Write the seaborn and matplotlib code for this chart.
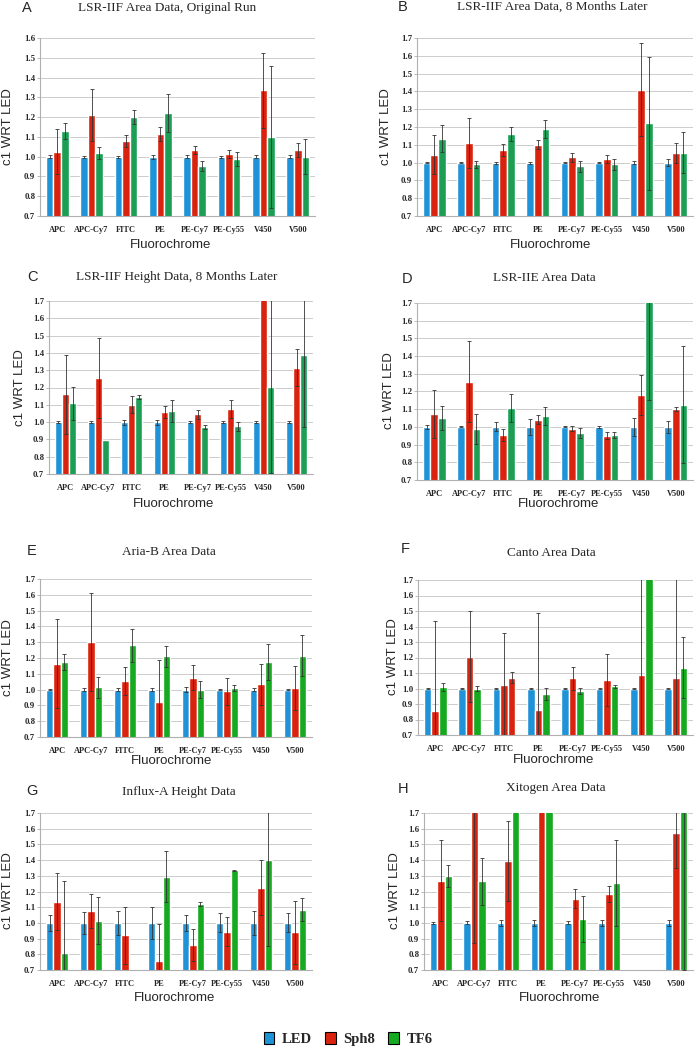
import numpy as np
import pandas as pd
import seaborn as sns
import matplotlib.pyplot as plt
from matplotlib.patches import Patch

nan = np.nan

fluors = ["APC", "APC-Cy7", "FITC", "PE", "PE-Cy7", "PE-Cy55", "V450", "V500"]
dyes = ["LED", "Sph8", "TF6"]

# A - LSR-IIF area, original run
a_led = [1.0, 1.0, 1.0, 1.0, 1.0, 1.0, 1.0, 1.0]
a_led_err = [0.006, 0.005, 0.005, 0.01, 0.006, 0.005, 0.008, 0.006]
a_sph8 = [1.025, 1.21, 1.08, 1.115, 1.035, 1.015, 1.335, 1.035]
a_sph8_err = [0.115, 0.13, 0.03, 0.035, 0.02, 0.02, 0.19, 0.035]
a_tf6 = [1.13, 1.02, 1.2, 1.22, 0.955, 0.99, 1.10, 1.0]
a_tf6_err = [0.04, 0.03, 0.035, 0.095, 0.025, 0.035, 0.36, 0.09]

# B - LSR-IIF area, 8 months later
b_led = [1.0, 1.0, 1.0, 1.0, 1.0, 1.0, 1.0, 1.0]
b_led_err = [0.004, 0.004, 0.006, 0.006, 0.004, 0.005, 0.008, 0.018]
b_sph8 = [1.045, 1.11, 1.07, 1.10, 1.03, 1.02, 1.41, 1.055]
b_sph8_err = [0.11, 0.14, 0.035, 0.025, 0.025, 0.025, 0.26, 0.055]
b_tf6 = [1.135, 0.99, 1.16, 1.19, 0.98, 0.99, 1.22, 1.055]
b_tf6_err = [0.075, 0.02, 0.04, 0.05, 0.03, 0.03, 0.375, 0.115]

# C - LSR-IIF height, 8 months later
c_led = [1.0, 1.0, 1.0, 1.0, 1.0, 1.0, 1.0, 1.0]
c_led_err = [0.005, 0.004, 0.015, 0.015, 0.008, 0.006, 0.008, 0.008]
c_sph8 = [1.16, 1.255, 1.10, 1.06, 1.045, 1.075, 1.9, 1.315]
c_sph8_err = [0.23, 0.23, 0.05, 0.035, 0.025, 0.05, 0.0, 0.105]
c_tf6 = [1.11, 0.895, 1.145, 1.065, 0.97, 0.975, 1.205, 1.39]
c_tf6_err = [0.095, 0.0, 0.01, 0.065, 0.012, 0.025, 0.5, 0.42]

# D - LSR-IIE area
d_led = [1.0, 1.0, 1.0, 1.0, 1.0, 1.0, 1.0, 1.0]
d_led_err = [0.01, 0.003, 0.025, 0.045, 0.003, 0.005, 0.05, 0.035]
d_sph8 = [1.075, 1.255, 0.955, 1.04, 0.99, 0.95, 1.18, 1.10]
d_sph8_err = [0.135, 0.23, 0.035, 0.025, 0.015, 0.02, 0.115, 0.01]
d_tf6 = [1.05, 0.99, 1.105, 1.06, 0.965, 0.955, 1.8, 1.125]
d_tf6_err = [0.07, 0.085, 0.08, 0.05, 0.03, 0.015, 0.65, 0.33]

# E - Aria-B area
e_led = [1.0, 1.0, 1.0, 1.0, 1.0, 1.0, 1.0, 1.0]
e_led_err = [0.004, 0.012, 0.01, 0.012, 0.015, 0.005, 0.01, 0.004]
e_sph8 = [1.165, 1.30, 1.055, 0.92, 1.075, 0.99, 1.035, 1.01]
e_sph8_err = [0.28, 0.31, 0.09, 0.27, 0.08, 0.085, 0.13, 0.14]
e_tf6 = [1.175, 1.015, 1.28, 1.21, 1.0, 1.01, 1.175, 1.215]
e_tf6_err = [0.05, 0.065, 0.105, 0.065, 0.055, 0.02, 0.115, 0.13]

# F - Canto area
f_led = [1.0, 1.0, 1.0, 1.0, 1.0, 1.0, 1.0, 1.0]
f_led_err = [0.003, 0.003, 0.003, 0.005, 0.003, 0.003, 0.003, 0.004]
f_sph8 = [0.855, 1.205, 1.02, 0.86, 1.065, 1.055, 1.09, 1.065]
f_sph8_err = [0.58, 0.295, 0.335, 0.63, 0.075, 0.165, 0.9, 0.9]
f_tf6 = [1.01, 1.0, 1.07, 0.965, 0.985, 1.015, 1.9, 1.135]
f_tf6_err = [0.025, 0.015, 0.035, 0.04, 0.02, 0.01, 0.0, 0.195]

# G - Influx-A height
g_led = [1.0, 1.0, 1.0, 1.0, 1.0, 1.0, 1.0, 1.0]
g_led_err = [0.05, 0.07, 0.075, 0.1, 0.05, 0.06, 0.075, 0.06]
g_sph8 = [1.135, 1.075, 0.92, 0.755, 0.86, 0.945, 1.225, 0.94]
g_sph8_err = [0.18, 0.11, 0.18, 0.24, 0.1, 0.095, 0.175, 0.2]
g_tf6 = [0.81, 1.015, nan, 1.295, 1.12, 1.335, 1.40, 1.085]
g_tf6_err = [0.455, 0.15, nan, 0.165, 0.015, 0.003, 0.55, 0.075]

# H - Xitogen area
h_led = [1.0, 1.0, 1.0, 1.0, 1.0, 1.0, nan, 1.0]
h_led_err = [0.005, 0.01, 0.018, 0.018, 0.01, 0.018, nan, 0.018]
h_sph8 = [1.27, 1.75, 1.395, 1.9, 1.155, 1.185, nan, 1.575]
h_sph8_err = [0.26, 0.88, 0.255, 0.0, 0.06, 0.05, nan, 0.225]
h_tf6 = [1.30, 1.265, 1.9, 1.9, 1.025, 1.255, nan, 1.75]
h_tf6_err = [0.07, 0.15, 0.0, 0.0, 0.145, 0.275, nan, 1.05]

W, H = 695, 1050
blue = "#1f93d8"
red = "#d9230f"
green_a = "#1c9f55"
green_b = "#15aa1f"

sns.set_theme(style="whitegrid")
plt.rcParams['font.family'] = ['Liberation Serif', 'DejaVu Serif']

fig = plt.figure(figsize=(W / 100, H / 100), dpi=100)


def box(l, t, r, b):
    return [l / W, 1 - b / H, (r - l) / W, (b - t) / H]


def ftext(x, y, s, **kw):
    fig.text(x / W, 1 - y / H, s, ha="center", va="center", **kw)


def draw_panel(ax, vals, errs, green, ymax, odd=None):
    df = pd.DataFrame({
        "Fluorochrome": np.tile(fluors, 3),
        "dye": np.repeat(dyes, len(fluors)),
        "value": np.concatenate(vals),
        "err": np.concatenate(errs),
    }).dropna()
    width = 0.66
    sns.barplot(data=df, x="Fluorochrome", y="value", hue="dye", order=fluors,
                hue_order=dyes, palette=[blue, red, green], width=width,
                saturation=1, errorbar=None, legend=False, ax=ax, zorder=2)
    lookup = {(r.Fluorochrome, r.dye): r.err for r in df.itertuples()}
    bw = width / 3
    xs, ys, es = [], [], []
    for p in ax.patches:
        xc = p.get_x() + p.get_width() / 2
        i = int(round(xc))
        j = int(round((xc - i) / bw)) + 1
        e = lookup.get((fluors[i], dyes[j]), 0)
        # panel F: the third FITC bar is drawn red in the original
        if odd is not None and (i, j) == odd:
            p.set_facecolor(red)
        if e > 0:
            xs.append(xc)
            ys.append(p.get_height())
            es.append(e)
    ax.errorbar(xs, ys, yerr=es, fmt="none", ecolor="#333333", elinewidth=0.6,
                capsize=1.6, capthick=0.6, zorder=3)

    ax.set_xlim(-0.5, len(fluors) - 0.5)
    ax.set_ylim(0.7, ymax)
    ax.set_yticks(np.arange(0.7, ymax + 0.001, 0.1))
    ax.yaxis.set_major_formatter("{x:.1f}")
    ax.set_xlabel("")
    ax.set_ylabel("")
    ax.set_axisbelow(True)
    ax.grid(axis="y", color="#cccccc", lw=0.7)
    ax.grid(axis="x", visible=False)
    for s in ["top", "right"]:
        ax.spines[s].set_visible(False)
    for s in ["left", "bottom"]:
        ax.spines[s].set_color("#b0b0b0")
        ax.spines[s].set_linewidth(0.8)
    ax.tick_params(axis="y", left=True, length=2, width=0.6, color="#b0b0b0",
                   pad=1.5, labelsize=6.3)
    ax.tick_params(axis="x", bottom=False, pad=1, labelsize=6)
    for lab in ax.get_xticklabels() + ax.get_yticklabels():
        lab.set_fontweight("bold")


panels = [
    ("A", "LSR-IIF Area Data, Original Run", box(40, 38, 315, 216), 1.6, green_a,
     [a_led, a_sph8, a_tf6], [a_led_err, a_sph8_err, a_tf6_err], None),
    ("B", "LSR-IIF Area Data, 8 Months Later", box(417, 38, 693, 216), 1.7, green_a,
     [b_led, b_sph8, b_tf6], [b_led_err, b_sph8_err, b_tf6_err], None),
    ("C", "LSR-IIF Height Data, 8 Months Later", box(49, 301, 313, 474), 1.7, green_a,
     [c_led, c_sph8, c_tf6], [c_led_err, c_sph8_err, c_tf6_err], None),
    ("D", "LSR-IIE Area Data", box(417, 303, 693, 480), 1.7, green_a,
     [d_led, d_sph8, d_tf6], [d_led_err, d_sph8_err, d_tf6_err], None),
    ("E", "Aria-B Area Data", box(40, 579, 312, 737), 1.7, green_b,
     [e_led, e_sph8, e_tf6], [e_led_err, e_sph8_err, e_tf6_err], None),
    ("F", "Canto Area Data", box(418, 580, 693, 735), 1.7, green_b,
     [f_led, f_sph8, f_tf6], [f_led_err, f_sph8_err, f_tf6_err], (2, 2)),
    ("G", "Influx-A Height Data", box(40, 813, 312, 970), 1.7, green_b,
     [g_led, g_sph8, g_tf6], [g_led_err, g_sph8_err, g_tf6_err], None),
    ("H", "Xitogen Area Data", box(424, 813, 693, 970), 1.7, green_b,
     [h_led, h_sph8, h_tf6], [h_led_err, h_sph8_err, h_tf6_err], None),
]

# text positions in pixels: letter, title, y label, x label
letter_xy = [(27, 8), (403, 7), (32, 277), (407, 279), (32, 551), (405, 549), (32, 791), (403, 789)]
title_xy = [(167, 8), (552, 7), (177, 277), (544, 278), (169, 552), (551, 553), (179, 792), (556, 788)]
ylabel_xy = [(8, 127), (386, 127), (20, 388), (389, 391), (8, 658), (393, 657), (8, 891), (395, 891)]
xlabel_xy = [(171, 245), (551, 245), (174, 504), (559, 504), (172, 761), (554, 760), (175, 998), (560, 998)]

for k, (letter, title, pos, ymax, green, vals, errs, odd) in enumerate(panels):
    ax = fig.add_axes(pos)
    draw_panel(ax, vals, errs, green, ymax, odd)
    ftext(*letter_xy[k], letter, family="Liberation Sans", fontsize=10.5)
    ftext(*title_xy[k], title, family="Liberation Serif", fontsize=9.5)
    ftext(*ylabel_xy[k], "c1 WRT LED", family="Liberation Sans", fontsize=9.5, rotation=90)
    ftext(*xlabel_xy[k], "Fluorochrome", family="Liberation Sans", fontsize=9.5)

handles = [Patch(facecolor=c, edgecolor="black", lw=0.8, label=d)
           for c, d in zip([blue, red, green_b], dyes)]
fig.legend(handles=handles, loc="center", bbox_to_anchor=(348 / W, 1 - 1039 / H),
           ncol=3, frameon=False, handlelength=0.75, handleheight=0.9,
           handletextpad=0.5, columnspacing=0.9,
           prop=dict(family="Liberation Serif", weight="bold", size=10.5))

fig.savefig("out.png", dpi=100)
